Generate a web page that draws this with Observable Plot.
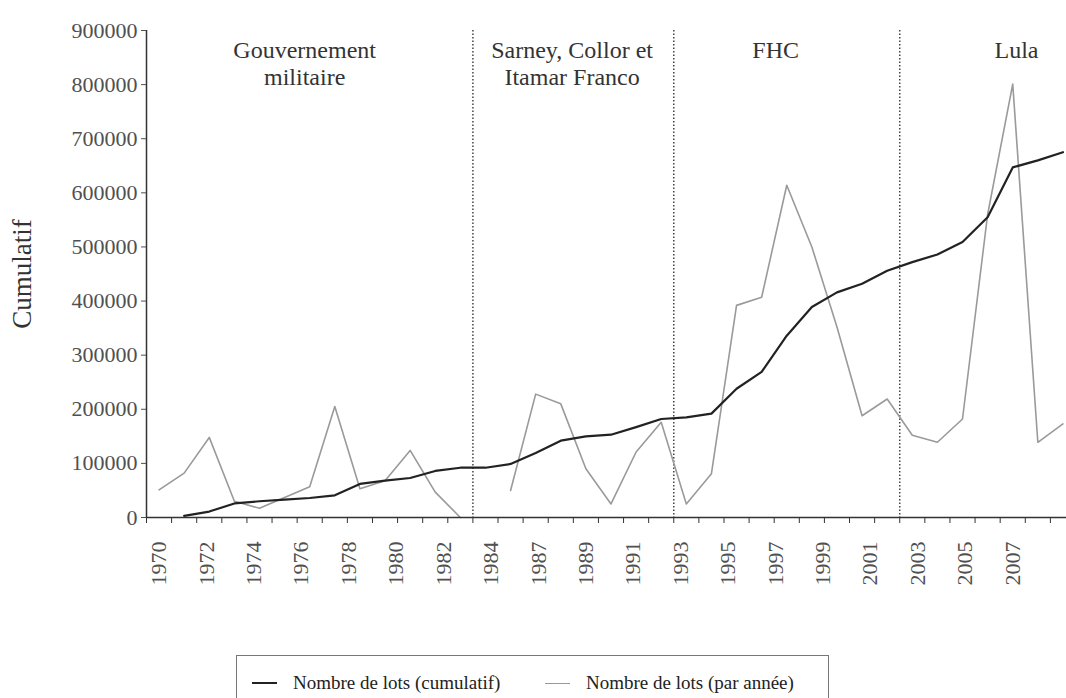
<!DOCTYPE html>
<html><head><meta charset="utf-8">
<script src="https://cdn.jsdelivr.net/npm/d3@7"></script>
<script src="https://cdn.jsdelivr.net/npm/@observablehq/plot@0.6"></script>
<style>
html,body{margin:0;padding:0;background:#fff;overflow:hidden;width:1066px;height:698px;}
#chart{position:absolute;left:0;top:0;}
#chart svg, #chart svg text{font-family:"Liberation Serif","Times New Roman",Times,"DejaVu Serif",serif !important;}
#legend{position:absolute;left:236px;top:655px;width:593px;height:70px;border:1.5px solid #777;box-sizing:border-box;font-family:"Liberation Serif","Times New Roman",Times,"DejaVu Serif",serif;font-size:19px;color:#222;background:#fff;}
.item{position:absolute;top:16px;display:flex;align-items:center;white-space:nowrap;}
.sw{display:inline-block;width:25px;height:0;margin-right:16px;}
</style></head><body>
<div id="chart"></div>
<div id="legend">
  <div class="item" style="left:15px"><span class="sw" style="border-top:2px solid #222"></span>Nombre de lots (cumulatif)</div>
  <div class="item" style="left:308px"><span class="sw" style="border-top:1.5px solid #999"></span>Nombre de lots (par année)</div>
</div>
<script>
// x tick labels, as printed under the axis
const tickLabels = ["1970","1972","1974","1976","1978","1980","1982","1984","1987","1989","1991","1993","1995","1997","1999","2001","2003","2005","2007"];
// cumulative number of lots (black line), one per category slot
const cumulative = [null, 3000, 11000, 26000, 30000, 33000, 36000, 41000, 62000, 68000, 73000, 86000, 92000, 92000, 99000, 119000, 142000, 150000, 153000, 167000, 182000, 185000, 192000, 238000, 269000, 336000, 389000, 416000, 432000, 456000, 472000, 486000, 509000, 555000, 647000, 660000, 675000];
// number of lots per year (grey line)
const perYear = [51000, 82000, 148000, 30000, 17000, 37000, 57000, 205000, 53000, 68000, 124000, 47000, 0, null, 50000, 228000, 210000, 90000, 25000, 121000, 176000, 25000, 81000, 392000, 407000, 614000, 500000, 352000, 188000, 219000, 152000, 139000, 182000, 560000, 801000, 139000, 173000];
// government periods
const periodNames = ["Gouvernement\nmilitaire", "Sarney, Collor et\nItamar Franco", "FHC", "Lula"];
const periodLabelAt = [5.8, 16.45, 24.56, 34.15];
const periodBreaks = [12.5, 20.5, 29.5];
const yTicks = [0,100000,200000,300000,400000,500000,600000,700000,800000,900000];

const serif = "Liberation Serif, Times New Roman, serif";
const n = cumulative.length;
const rows = d3.range(n).map(i => ({i, cum: cumulative[i], year: perYear[i]}));
const boundaries = d3.range(n + 1).map(k => k - 0.5);
const lastLabelSlot = 34;
const labelPos = tickLabels.map((t, k) => k * lastLabelSlot / (tickLabels.length - 1));
const labelMap = new Map(labelPos.map((p, k) => [p, tickLabels[k]]));
const periods = periodNames.map((name, k) => ({name, x: periodLabelAt[k]}));

const plot = Plot.plot({
  width: 1075, height: 640,
  marginLeft: 146, marginRight: 0, marginTop: 30, marginBottom: 123,
  style: {fontFamily: serif, background: "white", maxWidth: "none", overflow: "visible", color: "#222"},
  x: {domain: [-0.5, n - 0.5], axis: null},
  y: {domain: [0, 900000], axis: null},
  marks: [
    Plot.ruleX(periodBreaks, {stroke: "#444", strokeWidth: 1.5, strokeDasharray: "1.5,2"}),
    Plot.line(rows, {x: "i", y: "year", stroke: "#9a9a9a", strokeWidth: 1.6}),
    Plot.line(rows, {x: "i", y: "cum", stroke: "#222", strokeWidth: 2.2}),
    Plot.ruleY([0], {stroke: "#333", strokeWidth: 1.5}),
    Plot.ruleX([-0.5], {stroke: "#333", strokeWidth: 1.5}),
    Plot.axisY({ticks: yTicks, tickSize: 5, tickPadding: 4, tickFormat: d => String(d), fontSize: 22, fontFamily: serif, color: "#505050", label: null}),
    Plot.axisX({ticks: boundaries, tickSize: 6, tickFormat: () => "", label: null, color: "#333"}),
    Plot.axisX({ticks: labelPos, tickSize: 0, tickPadding: 24, tickRotate: -90, tickFormat: d => labelMap.get(d), fontSize: 22, fontFamily: serif, color: "#505050", label: null}),
    Plot.text(["Cumulatif"], {frameAnchor: "left", dx: -124, rotate: -90, textAnchor: "middle", fontSize: 27, fontFamily: serif, fill: "#333"}),
    Plot.text(periods, {x: "x", text: "name", frameAnchor: "top", dy: 9, lineAnchor: "top", fontSize: 24, fontFamily: serif, lineHeight: 1.1, fill: "#333"})
  ]
});
document.getElementById("chart").appendChild(plot);
</script>
</body></html>
